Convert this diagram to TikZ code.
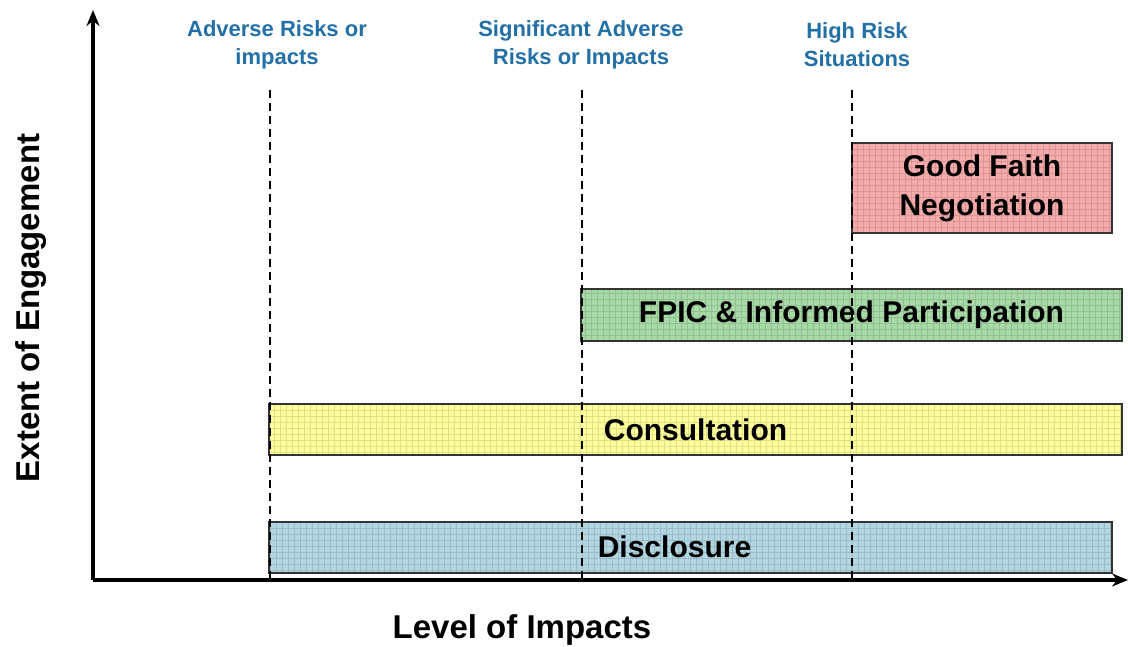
\documentclass[tikz,border=0pt]{standalone}
\usepackage{fontspec}
\setmainfont{Liberation Sans}
\usetikzlibrary{arrows.meta}

\definecolor{labelblue}{RGB}{34,112,166}
\definecolor{redbox}{RGB}{246,170,170}
\definecolor{greenbox}{RGB}{168,218,168}
\definecolor{yellowbox}{RGB}{255,255,155}
\definecolor{bluebox}{RGB}{178,214,226}

\begin{document}
\begin{tikzpicture}[
    x = 1pt, y = -1pt,
    level/.style={text=labelblue, font=\fontsize{22}{28}\selectfont\bfseries, align=center},
    axislabel/.style={font=\fontsize{33}{40}\selectfont\bfseries},
    band/.style={draw=black!80, line width=2pt, rectangle, minimum height=51pt, font=\fontsize{30}{34}\selectfont\bfseries, align=center,
        path picture={\draw[black, opacity=0.12, line width=0.4pt] (path picture bounding box.south west) grid[step=6pt] (path picture bounding box.north east);}},
    threshold/.style={dashed, line width=1.8pt, dash pattern=on 8pt off 5pt},
    axis/.style={-{Stealth[length=16pt, width=13pt]}, line width=3.6pt, color=black}
]
    \useasboundingbox (0, 0) rectangle (1128, 647);

    % Axes
    \coordinate (origin) at (93, 580);
    \coordinate (ytop) at (93, 10);
    \coordinate (xend) at (1128, 580);

    % Threshold labels
    \node (adverse) at (277, 45) [level] {Adverse Risks or\\impacts};
    \node (significant) at (581, 45) [level] {Significant Adverse\\Risks or Impacts};
    \node (highrisk) at (857, 45) [level] {High Risk\\Situations};

    % Bands
    \node (negotiation) at (982, 188) [band, fill=redbox, minimum width=260pt, minimum height=90pt] {Good Faith\\[5pt]Negotiation};
    \node (fpic) at (851.5, 315) [band, fill=greenbox, minimum width=541pt] {FPIC \& Informed Participation};
    \node (consultation) at (695.5, 429.5) [band, fill=yellowbox, minimum width=853pt] {Consultation};
    \node (disclosure) at (690.5, 547) [band, fill=bluebox, minimum width=843pt] {\hspace*{-32pt}Disclosure};

    % Thresholds
    \coordinate (t1top) at (270, 90);
    \coordinate (t2top) at (582, 90);
    \coordinate (t3top) at (852, 90);
    \coordinate (t1bot) at (270, 580);
    \coordinate (t2bot) at (582, 580);
    \coordinate (t3bot) at (852, 580);
    \draw[threshold] (t1top) -- (t1bot);
    \draw[threshold] (t2top) -- (t2bot);
    \draw[threshold] (t3top) -- (t3bot);

    % Axes
    \draw[axis] (origin) -- (ytop);
    \draw[axis] (origin) -- (xend);

    % Axis labels
    \node (xlabel) at (522, 630) [axislabel] {Level of Impacts};
    \node (ylabel) at (31, 308) [axislabel, rotate=90] {Extent of Engagement};
\end{tikzpicture}
\end{document}
